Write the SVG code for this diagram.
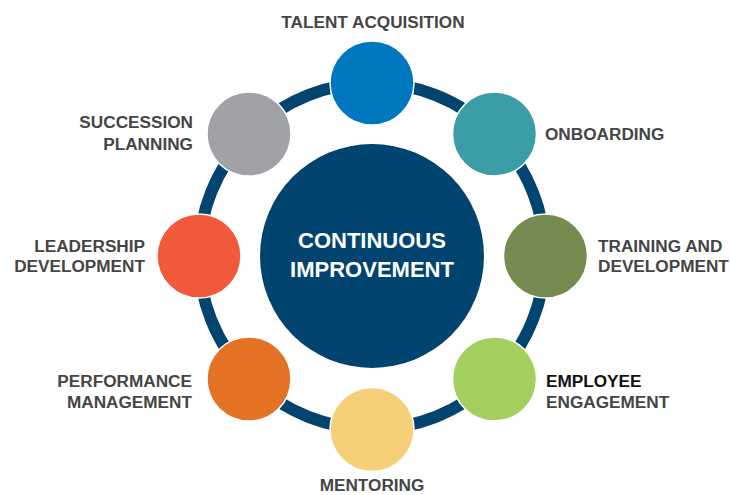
<svg xmlns="http://www.w3.org/2000/svg" width="730" height="495" viewBox="0 0 730 495">
<style>
.lbl{font-family:"Liberation Sans",Arial,sans-serif;font-weight:bold;font-size:17.2px;fill:#454545}
.dark{fill:#111111}
.ctr{font-family:"Liberation Sans",Arial,sans-serif;font-weight:bold;font-size:22px;fill:#ffffff}
.node{stroke:#ffffff;stroke-width:1.5}
</style>
<rect width="730" height="495" fill="#ffffff"/>
<g id="connectors">
<circle cx="372" cy="256" r="173" fill="none" stroke="#00446F" stroke-width="12"/>
</g>
<g id="center">
<circle cx="372" cy="256" r="112" fill="#00446F"/>
<text class="ctr" x="372" y="248" text-anchor="middle">CONTINUOUS</text>
<text class="ctr" x="372" y="277" text-anchor="middle">IMPROVEMENT</text>
</g>
<g id="talent-acquisition">
<circle class="node" cx="372" cy="83" r="42" fill="#0077BF"/>
<text class="lbl" x="373" y="28" text-anchor="middle">TALENT ACQUISITION</text>
</g>
<g id="onboarding">
<circle class="node" cx="494.5" cy="134" r="42" fill="#3A9DA8"/>
<text class="lbl" x="545" y="140">ONBOARDING</text>
</g>
<g id="training">
<circle class="node" cx="545.5" cy="256" r="42" fill="#758B50"/>
<text class="lbl" x="598" y="252">TRAINING AND</text>
<text class="lbl" x="598" y="272">DEVELOPMENT</text>
</g>
<g id="engagement">
<circle class="node" cx="494.5" cy="379" r="42" fill="#A4CE5E"/>
<text class="lbl dark" x="546" y="387">EMPLOYEE</text>
<text class="lbl" x="546" y="408">ENGAGEMENT</text>
</g>
<g id="mentoring">
<circle class="node" cx="372" cy="429.5" r="42" fill="#F5D078"/>
<text class="lbl" x="372" y="490.5" text-anchor="middle">MENTORING</text>
</g>
<g id="performance">
<circle class="node" cx="249" cy="379" r="42" fill="#E47326"/>
<text class="lbl" x="192" y="387" text-anchor="end">PERFORMANCE</text>
<text class="lbl" x="192" y="408" text-anchor="end">MANAGEMENT</text>
</g>
<g id="leadership">
<circle class="node" cx="199" cy="256" r="42" fill="#F05A3B"/>
<text class="lbl" x="145" y="252" text-anchor="end">LEADERSHIP</text>
<text class="lbl" x="145" y="272" text-anchor="end">DEVELOPMENT</text>
</g>
<g id="succession">
<circle class="node" cx="249" cy="134" r="42" fill="#A1A1A8"/>
<text class="lbl" x="193" y="128" text-anchor="end">SUCCESSION</text>
<text class="lbl" x="193" y="150" text-anchor="end">PLANNING</text>
</g>
</svg>
